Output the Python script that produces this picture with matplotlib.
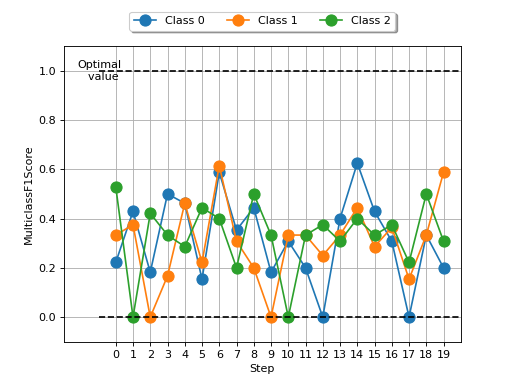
import matplotlib
matplotlib.use('Agg')
import matplotlib.pyplot as plt
import numpy as np

steps = list(range(20))
class_0 = [0.222, 0.429, 0.182, 0.5, 0.462, 0.154, 0.588, 0.353, 0.444, 0.182,
           0.308, 0.2, 0.0, 0.4, 0.625, 0.429, 0.308, 0.0, 0.333, 0.2]
class_1 = [0.333, 0.375, 0.0, 0.167, 0.462, 0.222, 0.615, 0.308, 0.2, 0.0,
           0.333, 0.333, 0.25, 0.333, 0.444, 0.286, 0.364, 0.154, 0.333, 0.588]
class_2 = [0.529, 0.0, 0.421, 0.333, 0.286, 0.444, 0.4, 0.2, 0.5, 0.333,
           0.0, 0.333, 0.375, 0.308, 0.4, 0.333, 0.375, 0.222, 0.5, 0.308]
series = {'Class 0': class_0, 'Class 1': class_1, 'Class 2': class_2}
optimal_value = 1.0
worst_value = 0.0


def main():
    fig, ax = plt.subplots(figsize=(6.4, 4.8), dpi=80)

    for name, vals in series.items():
        ax.plot(steps, vals, marker='o', markersize=10, label=name)

    ax.hlines([optimal_value, worst_value], -1, 20, colors='black',
              linestyles='--', linewidth=1.5)
    ax.text(-0.95, optimal_value, "Optimal\n  value", ha='center', va='center',
            multialignment='center')

    ax.set_xlim(-3, 20)
    ax.set_ylim(-0.1, 1.1)
    ax.set_xticks(steps)
    ax.set_xlabel("Step")
    ax.set_ylabel("MulticlassF1Score")
    ax.grid(True, color='#b0b0b0')
    ax.legend(loc='upper center', bbox_to_anchor=(0.5, 1.135), ncol=3,
              fancybox=True, shadow=True)
    fig.savefig("out.png")
    plt.close(fig)


if __name__ == '__main__':
    main()
